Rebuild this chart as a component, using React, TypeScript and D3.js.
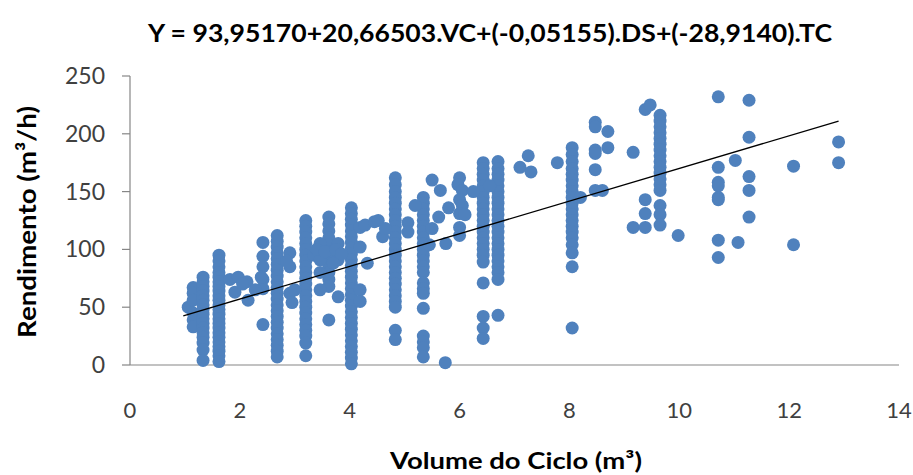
import React from "react";
import * as d3 from "d3";

const chartTitle = "Y = 93,95170+20,66503.VC+(-0,05155).DS+(-28,9140).TC";
const xAxisTitle = "Volume do Ciclo (m³)";
const yAxisTitle = "Rendimento (m³/h)";

const xTicks = [0, 2, 4, 6, 8, 10, 12, 14];
const yTicks = [0, 50, 100, 150, 200, 250];

// Vertical columns of points: x value and y values
const columnX = [1.06, 1.15, 1.33, 1.62, 2.42, 2.68, 3.2, 3.62, 4.03, 4.83, 5.34, 6.43, 6.7, 8.05, 9.65, 10.71, 11.27, 12.08, 12.9];
const columnY = [
  [50],
  [67, 62, 56, 45, 39, 33],
  [76, 72, 68, 64, 60, 56, 52, 48, 44, 40, 36, 32, 28, 24, 19, 13, 4],
  [95, 90, 85, 80, 76, 72, 68, 64, 60, 56, 52, 48, 44, 40, 36, 32, 28, 24, 20, 16, 12, 8, 3],
  [106, 94, 85, 74, 66, 35],
  [112, 107, 102, 97, 92, 87, 82, 77, 72, 67, 62, 57, 52, 47, 42, 37, 32, 27, 22, 17, 12, 7],
  [125, 120, 115, 110, 105, 100, 95, 90, 85, 80, 75, 70, 65, 60, 55, 50, 45, 40, 35, 30, 25, 19, 8],
  [128, 122, 116, 110, 104, 98, 92, 86, 80, 74, 68, 39],
  [136, 131, 126, 121, 116, 111, 106, 101, 96, 91, 86, 81, 76, 71, 66, 61, 56, 51, 46, 41, 36, 31, 26, 21, 16, 11, 6, 1],
  [162, 156, 150, 145, 140, 135, 130, 125, 120, 115, 110, 105, 100, 95, 90, 85, 80, 75, 70, 65, 60, 55, 50, 30, 22],
  [145, 140, 135, 130, 125, 120, 115, 110, 105, 100, 95, 90, 85, 80, 71, 66, 62, 49, 25, 20, 15, 7],
  [175, 170, 165, 160, 155, 150, 145, 140, 135, 130, 125, 120, 115, 110, 105, 100, 95, 89, 71, 42, 32, 23],
  [176, 170, 165, 160, 155, 150, 145, 140, 135, 130, 125, 120, 115, 110, 105, 100, 95, 90, 85, 80, 74, 43],
  [188, 182, 176, 170, 165, 160, 155, 150, 145, 140, 135, 130, 125, 120, 115, 110, 104, 97, 85, 32],
  [216, 211, 206, 201, 196, 191, 186, 181, 176, 171, 166, 161, 156, 151, 138, 130, 121],
  [232, 171, 158, 155, 145, 143, 108, 93],
  [229, 197, 163, 151, 128],
  [172, 104],
  [193, 175],
];

// Scattered single points
const scatterX = [
  1.82, 1.91, 1.97, 2.13, 2.15, 2.28, 2.39, 2.05,
  2.91, 2.91, 2.91, 2.85, 3.0, 2.95,
  3.35, 3.46, 3.46, 3.46, 3.46, 3.4, 3.55, 3.79, 3.79, 3.79, 3.75, 3.85, 3.7,
  4.19, 4.19, 4.19, 4.19, 4.28, 4.32, 4.45, 4.52, 4.6, 4.65,
  5.06, 5.06, 5.19, 5.5, 5.5, 5.45, 5.65, 5.62, 5.74, 5.8, 5.75, 6.0, 5.97, 6.05, 6.0, 6.05, 6.0, 6.1, 6.0, 6.0, 6.25, 6.55,
  7.1, 7.25, 7.3, 7.78, 8.2,
  8.47, 8.47, 8.47, 8.47, 8.47, 8.47, 8.6, 8.7, 8.7,
  9.16, 9.16, 9.38, 9.47, 9.38, 9.38, 9.38, 9.98,
  11.02, 11.07,
];
const scatterY = [
  74, 63, 76, 72, 56, 65, 76, 70,
  97, 85, 62, 90, 65, 54,
  95, 105, 91, 80, 65, 100, 98, 105, 91, 59, 100, 96, 88,
  119, 102, 65, 55, 121, 88, 124, 125, 111, 118,
  123, 115, 138, 118, 160, 104, 151, 128, 2, 136, 105, 162, 156, 151, 143, 138, 131, 130, 119, 112, 150, 155,
  171, 181, 167, 175, 145,
  210, 206, 186, 183, 169, 151, 151, 202, 188,
  184, 119, 221, 225, 143, 131, 119, 112,
  177, 106,
];

// Linear trend line endpoints
const trendX = [0.97, 12.9];
const trendY = [42.5, 211];

const W = 913;
const H = 475;

export default function App() {
  const x = d3.scaleLinear().domain([0, 14]).range([130, 899]);
  const y = d3.scaleLinear().domain([0, 250]).range([365, 76]);

  const points: { vx: number; vy: number }[] = [];
  columnX.forEach((cx, i) => columnY[i].forEach((cy) => points.push({ vx: cx, vy: cy })));
  scatterX.forEach((sx, i) => points.push({ vx: sx, vy: scatterY[i] }));

  const line = d3
    .line<number>()
    .x((d) => x(d))
    .y((_, i) => y(trendY[i]));

  const font = "Lato, 'Open Sans', sans-serif";
  const axisColor = "#868686";
  const textColor = "#404040";

  return (
    <svg
      width={W}
      height={H}
      style={{ position: "absolute", left: 0, top: 0, background: "#fff" }}
      fontFamily={font}
    >
      <rect x={0} y={0} width={W} height={H} fill="#fff" />
      <text
        x={490}
        y={42}
        textAnchor="middle"
        fontSize={24}
        fontWeight="bold"
        fill="#000"
        textLength={684}
        lengthAdjust="spacingAndGlyphs"
      >
        {chartTitle}
      </text>

      {/* axes */}
      <line x1={x(0)} x2={x(14)} y1={y(0)} y2={y(0)} stroke={axisColor} strokeWidth={1.2} />
      <line x1={x(0)} x2={x(0)} y1={y(0)} y2={y(250)} stroke={axisColor} strokeWidth={1.2} />
      {yTicks.map((t) => (
        <g key={"y" + t}>
          <line x1={x(0) - 8} x2={x(0)} y1={y(t)} y2={y(t)} stroke={axisColor} strokeWidth={1.2} />
          <text x={105} y={y(t)} dy="0.35em" textAnchor="end" fontSize={23} fill={textColor}>
            {t}
          </text>
        </g>
      ))}
      {xTicks.map((t) => (
        <text key={"x" + t} x={x(t)} y={418} textAnchor="middle" fontSize={22} fill={textColor}>
          {t}
        </text>
      ))}

      {/* points */}
      {points.map((p, i) => (
        <circle key={i} cx={x(p.vx)} cy={y(p.vy)} r={6.5} fill="#4F81BD" />
      ))}

      {/* trend line */}
      <path d={line(trendX) || ""} fill="none" stroke="#000" strokeWidth={1.3} />

      <text
        x={516}
        y={469}
        textAnchor="middle"
        fontSize={23}
        fontWeight="bold"
        fill="#000"
        textLength={252}
        lengthAdjust="spacingAndGlyphs"
      >
        {xAxisTitle}
      </text>
      <text
        transform={`translate(36, 222) rotate(-90)`}
        textAnchor="middle"
        fontSize={24}
        fontWeight="bold"
        fill="#000"
        textLength={232}
        lengthAdjust="spacingAndGlyphs"
      >
        {yAxisTitle}
      </text>
    </svg>
  );
}
